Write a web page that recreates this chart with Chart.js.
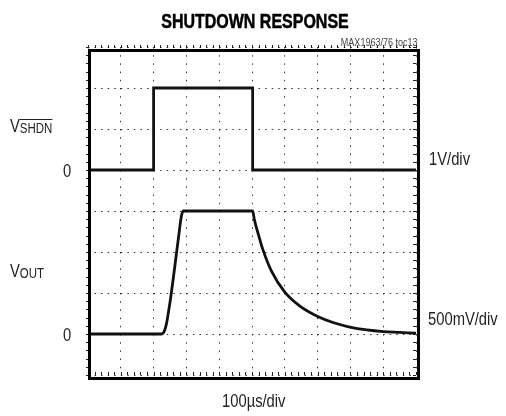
<!DOCTYPE html>
<html>
<head>
<meta charset="utf-8">
<script src="https://cdn.jsdelivr.net/npm/chart.js@4/dist/chart.umd.min.js"></script>
<style>
  body { margin: 0; background: #fff; }
  #wrap { position: relative; width: 506px; height: 416px; }
  .lbl {
    position: absolute; white-space: nowrap; line-height: 1;
    font-family: "Liberation Sans", Arial, sans-serif;
    font-size: 18px; color: #222;
    transform: scaleX(0.82); transform-origin: left top;
  }
  .title { font-weight: bold; font-size: 19.5px; color: #000; transform-origin: center top;
    -webkit-text-stroke: 0.5px #000; }
  .note { font-size: 11px; color: #444; transform-origin: right top; }
  .sub { font-size: 14px; position: relative; top: 1px; }
  .bar { text-decoration: overline; }
</style>
</head>
<body>
<div id="wrap">
  <canvas id="scope" width="506" height="416"></canvas>
  <div class="lbl title" style="left:0;width:510px;text-align:center;top:12px;">SHUTDOWN RESPONSE</div>
  <div class="lbl note" style="right:88px;top:37px;">MAX1963/76 toc13</div>
  <div class="lbl" style="left:10px;top:117px;">V<span class="sub bar">SHDN</span></div>
  <div class="lbl" style="left:63px;top:162px;">0</div>
  <div class="lbl" style="left:429px;top:150px;">1V/div</div>
  <div class="lbl" style="left:10px;top:262px;">V<span class="sub">OUT</span></div>
  <div class="lbl" style="left:63px;top:326px;">0</div>
  <div class="lbl" style="left:428px;top:310px;">500mV/div</div>
  <div class="lbl" style="left:222px;top:392px;">100µs/div</div>
</div>
<script>
// time base: 100us/div, 10 divisions
const timeMin = 0;
const timeMax = 1000;
const timeStep = 100;

// SHDN trace (1V/div), values in volts
const shdnTime = [0, 200, 200, 502, 502, 1000];
const shdnVolts = [0, 0, 2, 2, 0, 0];

// VOUT trace (500mV/div), values in volts
const voutTime = [0, 224, 229, 234, 239, 245, 252, 260, 268, 276, 284, 290,
  502, 507, 514, 524, 534, 559, 600, 646, 702, 747, 798, 850, 900, 950, 1000];
const voutVolts = [0, 0, 0.01, 0.05, 0.12, 0.26, 0.44, 0.68, 0.93, 1.18, 1.42, 1.5,
  1.5, 1.40, 1.29, 1.15, 1.02, 0.77, 0.51, 0.34, 0.21, 0.14, 0.085, 0.05, 0.03, 0.02, 0.01];

// screen placement of each trace: volts per division and where its zero sits
const shdnScale = 1, shdnZeroDiv = 5;
const voutScale = 0.5, voutZeroDiv = 1;

function toPoints(ts, vs, vPerDiv, zero) {
  return ts.map((t, i) => ({ x: t, y: vs[i] / vPerDiv + zero }));
}

// thick frame + small ticks on the graticule edges
const framePlugin = {
  id: 'frame',
  afterDraw(chart) {
    const { ctx, chartArea: a, scales } = chart;
    ctx.save();
    ctx.strokeStyle = '#222';
    ctx.lineWidth = 1;
    ctx.beginPath();
    for (let t = timeMin; t <= timeMax; t += timeStep / 5) {
      const x = Math.round(scales.x.getPixelForValue(t)) + 0.5;
      ctx.moveTo(x, a.top - 2); ctx.lineTo(x, a.top + 1);
      ctx.moveTo(x, a.bottom - 3); ctx.lineTo(x, a.bottom);
    }
    for (let d = 0; d <= 8.001; d += 0.2) {
      const y = Math.round(scales.y.getPixelForValue(d)) + 0.5;
      ctx.moveTo(a.left - 2, y); ctx.lineTo(a.left + 1, y);
      ctx.moveTo(a.right - 3, y); ctx.lineTo(a.right, y);
    }
    ctx.stroke();
    ctx.strokeStyle = '#000';
    ctx.lineWidth = 3;
    ctx.strokeRect(a.left + 1.5, a.top + 3.5, a.right - a.left + 1, a.bottom - a.top);
    ctx.restore();
  }
};

new Chart(document.getElementById('scope'), {
  type: 'line',
  data: {
    datasets: [
      {
        label: 'SHDN',
        data: toPoints(shdnTime, shdnVolts, shdnScale, shdnZeroDiv),
        borderColor: '#111',
        borderWidth: 2.8,
        pointRadius: 0,
        tension: 0
      },
      {
        label: 'VOUT',
        data: toPoints(voutTime, voutVolts, voutScale, voutZeroDiv),
        borderColor: '#111',
        borderWidth: 2.8,
        pointRadius: 0,
        cubicInterpolationMode: 'monotone'
      }
    ]
  },
  options: {
    responsive: false,
    animation: false,
    layout: { padding: { left: 88, right: 90, top: 47, bottom: 41 } },
    scales: {
      x: {
        type: 'linear',
        min: timeMin,
        max: timeMax,
        ticks: { display: false, stepSize: timeStep },
        grid: { color: '#333', lineWidth: 1, drawTicks: false },
        border: { display: false, dash: [1.5, 6.7] }
      },
      y: {
        type: 'linear',
        min: 0,
        max: 8,
        ticks: { display: false, stepSize: 1 },
        grid: { color: '#333', lineWidth: 1, drawTicks: false },
        border: { display: false, dash: [1.5, 5.06] }
      }
    },
    plugins: {
      legend: { display: false },
      tooltip: { enabled: false }
    }
  },
  plugins: [framePlugin]
});
</script>
</body>
</html>
